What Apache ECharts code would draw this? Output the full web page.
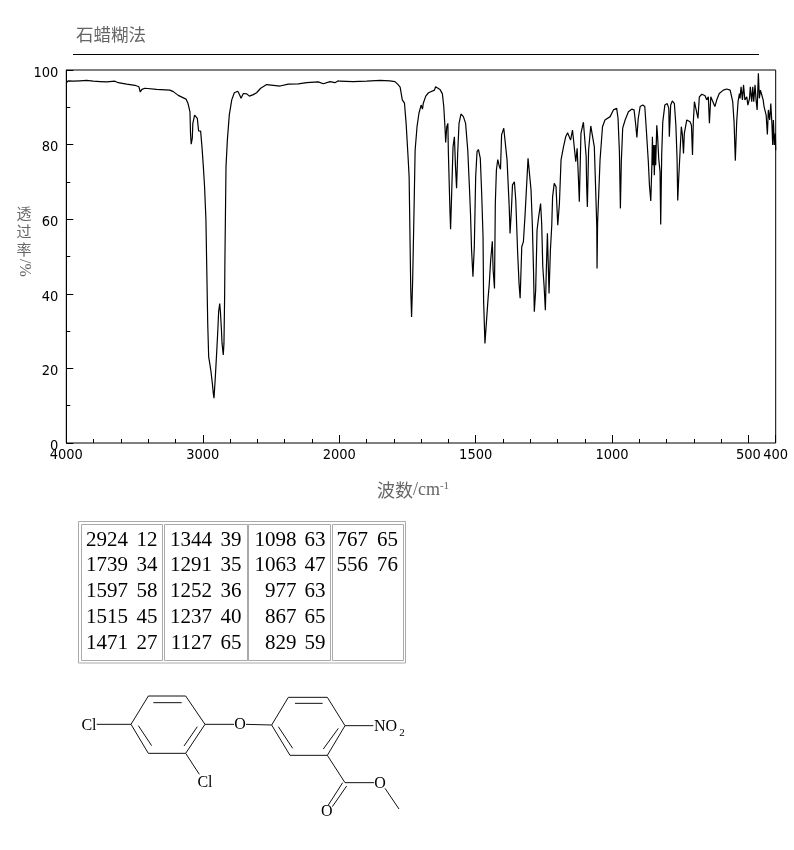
<!DOCTYPE html>
<html>
<head>
<meta charset="utf-8">
<style>html,body{margin:0;padding:0;background:#fff}#chart{width:794px;height:850px}</style>
<script src="https://cdn.jsdelivr.net/npm/echarts@6/dist/echarts.min.js"></script>
</head>
<body>
<div id="chart"></div>
<script>
// ---- spectrum data: wavenumber (cm-1) and transmittance (%) ----
const highWavenumbers = [4000,3985,3949,3900,3851,3839,3802,3753,3741,3705,3644,3619,3558,3497,3468,3458,3446,3424,3339,3241,3216,3180,3123,3109,3094,3090,3085,3077,3073,3060,3050,3040,3031,3016,3006,2996,2987,2977,2972,2964,2957,2947,2940,2930,2923,2918,2908,2898,2891,2884,2876,2871,2864,2859,2850,2845,2840,2838,2830,2820,2806,2788,2769,2744,2732,2720,2703,2678,2659,2630,2606,2576,2532,2483,2434,2374,2300,2239,2154,2117,2068,2032,2007,2000];
const highTransmittance = [96.6,97.1,97.0,97.1,97.2,97.0,97.0,96.9,97.1,96.8,97.0,96.6,96.2,95.9,95.5,94.1,94.8,95.1,94.8,94.6,94.2,93.2,92.2,91.1,88.8,83.0,80.1,81.7,85.7,87.9,88.2,87.0,83.7,83.6,79.4,74.1,68.7,59.8,49.0,32.1,23.1,20.9,19.1,16.0,13.3,12.0,17.8,24.5,29.4,35.2,37.4,35.2,30.7,26.7,23.6,26.7,39.7,49.0,74.1,81.2,87.9,92.0,93.9,94.3,93.5,92.4,93.7,93.6,93.0,93.4,93.9,95.1,96.1,95.9,95.7,96.2,96.3,96.6,96.8,96.3,96.9,96.6,97.1,97.0];
const midWavenumbers = [2000,1950,1900,1850,1815,1796,1786,1777,1769,1761,1755,1748,1744,1741,1738,1735,1731,1726,1722,1715,1708,1700,1695,1692,1683,1673,1651,1647,1631,1622,1617,1612,1610,1606,1602,1600,1594,1592,1588,1583,1578,1574,1570,1566,1561,1554,1545,1537,1529,1523,1519,1515,1510,1505,1500,1495,1490,1483,1478,1473,1471,1466,1461,1455,1450,1445,1439,1436,1431,1428,1424,1419,1413,1409,1405,1397,1391,1385,1377,1374,1369,1365,1358,1353,1346,1341,1337,1331,1325,1319];
const midTransmittance = [97.0,96.9,97.0,97.2,97.1,96.9,96.2,95.4,92.0,91.1,85.7,76.8,71.4,56.2,41.0,33.8,43.7,62.5,78.5,84.8,88.4,90.6,89.5,91.1,93.0,93.9,94.6,95.5,94.8,93.6,90.2,83.9,80.6,84.8,85.7,77.6,61.6,57.3,66.9,79.4,82.1,74.1,68.3,77.6,85.7,88.2,87.5,85.7,78.5,68.7,61.6,51.7,44.6,52.6,71.4,78.1,78.7,76.3,66.9,55.3,38.3,26.7,32.0,38.3,42.8,49.0,54.1,46.4,41.4,64.2,73.2,76.0,74.1,73.4,82.6,84.4,83.9,75.9,63.3,56.2,62.5,69.2,70.0,65.1,50.8,42.8,38.8,52.6,54.0,61.1];
const fingerWavenumbers = [1308,1303,1297,1292,1288,1285,1280,1275,1269,1262,1258,1254,1249,1244.5,1241,1237,1234,1231,1226,1221,1218,1212,1205.4,1199,1193,1187,1178,1170,1163,1158,1152,1145,1139,1133,1128,1123.5,1120,1114,1105,1099,1095,1093,1090.5,1086,1078,1071,1065,1060,1056,1055,1053,1044,1035,1026,1007];
const fingerTransmittance = [76.3,76.3,67.8,58.0,46.4,35.2,41.0,57.1,60.7,64.2,58.9,47.3,41.9,35.6,46.4,56.2,48.1,40.1,51.7,58.4,66.0,69.6,68.7,58.4,64.2,75.9,79.4,82.1,83.2,83.5,81.2,83.9,83.9,75.4,79.0,71.4,64.7,83.0,86.0,85.7,76.8,68.7,63.3,78.5,85.0,84.8,79.4,67.8,58.0,46.8,58.9,75.9,84.8,86.6,87.5];
const lowWavenumbers = [995,983,978,973,969.4,966,961,952,940,928,919.3,913,909,904,897,887.5,880,875,872,867,863,858,854,852,850,847,845,842,840,836,832.6,829,824,821.6,818,814,806.5,797.6,792,790,785,779,771.5,766,761.7,759.2,755.6,751,746,742,738,735,726,714,709,705,702,698,692,685,680,671,659,653,647,643,638,632,623,616,607,592,580,567,561,557.6,552.7,548,543,538,533,530.7,527,522,518,513,506,502,496,493,488,484,480.6,475.7,472,468,463.5,460,456,451,446,442.7,439,435,430.5,427,422,418,414,411,408.5,405,401.2,400];
const lowTransmittance = [89.3,89.7,87.0,78.0,62.9,75.4,84.4,86.6,88.8,89.5,89.3,85.2,81.9,87.0,90.2,90.6,90.2,84.8,85.2,75.4,69.2,64.9,74.5,82.1,74.5,79.9,71.8,79.9,74.5,85.2,81.7,76.3,72.7,58.6,77.2,86.1,90.6,91.0,89.7,82.1,90.6,91.7,91.0,85.2,76.3,65.0,71.0,77.6,84.8,82.6,77.6,83.0,86.6,86.1,85.2,77.2,86.1,91.5,91.5,87.0,92.8,93.5,93.1,92.0,92.8,85.7,92.8,92.4,90.2,92.0,93.7,94.6,94.9,94.6,95.0,91.5,86.1,75.7,86.1,91.5,93.7,92.4,95.5,92.0,96.0,92.0,92.8,90.6,92.4,95.5,91.5,95.5,91.5,96.0,92.0,89.3,99.1,92.4,94.6,93.3,92.0,90.2,90.6,87.9,82.7,89.3,86.6,91.0,85.7,79.9,86.6,79.9,83.0,78.5];

// ---- axis ticks ----
const highMajorTicks = [4000,3000,2000];
const lowMajorTicks = [1500,1000,500,400];
const tickLabelFont = '"DejaVu Sans Condensed","Liberation Sans",sans-serif';

// ---- peak table ----
const peakWavenumbers = [
  ['2924','1739','1597','1515','1471'],
  ['1344','1291','1252','1237','1127'],
  ['1098','1063','977','867','829'],
  ['767','556']
];
const peakValues = [
  ['12','34','58','45','27'],
  ['39','35','36','40','65'],
  ['63','47','63','65','59'],
  ['65','76']
];

// ---- text ----
const titleText = '石蜡糊法';
const yAxisChars = ['透','过','率'];

function pairs(xs, ys){ return xs.map((x,i)=>[x,ys[i]]); }
const rightW = midWavenumbers.concat(fingerWavenumbers, lowWavenumbers);
const rightT = midTransmittance.concat(fingerTransmittance, lowTransmittance);

const G = {l:66.3, mid:339.3, r:775.7, t:70, h:373};
const gray = '#666';
const graphic = [];

function text(x,y,t,o){
  graphic.push({type:'text',x:x,y:y,silent:true,z:20,
    style:Object.assign({text:t,fill:'#000',fontFamily:'Liberation Serif',fontSize:16,align:'center',verticalAlign:'middle'},o||{})});
}
function line(x1,y1,x2,y2,c){
  graphic.push({type:'line',silent:true,z:20,shape:{x1,y1,x2,y2},style:{stroke:c||'#000',lineWidth:1}});
}
function box(x,y,w,h,stroke){
  graphic.push({type:'rect',silent:true,z:19,shape:{x,y,width:w,height:h},style:{fill:'none',stroke:stroke,lineWidth:1}});
}

// rule under the title
line(73,54.5,759,54.5);

// y axis caption, stacked
yAxisChars.forEach((c,i)=>text(24,213+i*18,c,{fontFamily:'Noto Sans CJK SC',fontSize:15,fill:gray}));
graphic.push({type:'text',x:24,y:268,rotation:-Math.PI/2,silent:true,z:20,style:{text:'/%',fill:gray,fontFamily:'Liberation Serif',fontSize:16,align:'center',verticalAlign:'middle'}});

// x axis caption
graphic.push({type:'text',x:413,y:490,silent:true,z:20,style:{
  text:'{a|波数}{b|/cm}{c|-1}',align:'center',verticalAlign:'middle',
  rich:{a:{fontFamily:'Noto Sans CJK SC',fontSize:18,fill:gray},
        b:{fontFamily:'Liberation Serif',fontSize:18,fill:gray},
        c:{fontFamily:'Liberation Serif',fontSize:11,fill:gray,verticalAlign:'top',padding:[0,0,6,0]}}}});

// peak table
box(78.5,521.5,327,141.5,'#aaa');
const colBoxes=[[81,81],[164,83],[248,82],[332,71]];
const colW=[128,212,296.5,368], colV=[157.5,241.5,325.5,398];
colBoxes.forEach((c,i)=>{
  box(c[0]+.5,524.5,c[1],136,'#aaa');
  peakWavenumbers[i].forEach((w,r)=>{
    const y=540+r*25.8;
    text(colW[i],y,w,{fontSize:21,align:'right'});
    text(colV[i],y,peakValues[i][r],{fontSize:21,align:'right'});
  });
});

// structure diagram
const bondSegments=[
 [235,48,347,48],[347,48,405,133],[405,133,347,220],[347,220,235,220],[235,220,183,133],[183,133,235,48],
 [250,68,335,68],[205,137,245,197],[382,140,342,198],
 [80,133,183,133],[347,220,388,283],
 [405,133,492,133],[528,133,605,135],
 [655,52,772,52],[772,52,825,137],[825,137,772,226],[772,226,660,226],[660,226,605,135],[605,135,655,52],
 [675,70,758,70],[625,140,668,205],[805,145,760,207],
 [825,137,910,137],[772,226,825,308],[825,308,912,308],[945,325,987,387],
 [818,308,775,375],[830,318,787,380]
];
const sx=v=>70+v/3, sy=v=>680+v/3;
bondSegments.forEach(b=>line(sx(b[0]),sy(b[1]),sx(b[2]),sy(b[3]),'#111'));
text(sx(57),sy(137),'Cl');
text(sx(405),sy(308),'Cl');
text(sx(510),sy(134),'O');
text(sx(930),sy(310),'O');
text(sx(770),sy(395),'O');
text(sx(912),sy(141),'NO',{align:'left'});
text(sx(988),sy(158),'2',{fontSize:11,align:'left'});

const plainNumber=v=>String(v);
const labelStyle={color:'#000',fontFamily:tickLabelFont,fontSize:14.5,margin:5,formatter:plainNumber};
const hiddenY=i=>({gridIndex:i,type:'value',min:0,max:100,show:false});

const option={
  animation:false,
  backgroundColor:'#fff',
  title:{text:titleText,left:76,top:26,padding:0,textStyle:{color:gray,fontFamily:'Noto Sans CJK SC',fontSize:17.5,fontWeight:'normal'}},
  grid:[
    {left:G.l,width:G.mid-G.l,top:G.t,height:G.h},
    {left:G.mid,width:G.r-G.mid,top:G.t,height:G.h},
    {left:G.l,width:G.r-G.l,top:G.t,height:G.h,show:true,borderColor:'#000',borderWidth:1,backgroundColor:'transparent'}
  ],
  xAxis:[
    {gridIndex:0,type:'value',inverse:true,min:2000,max:4000,interval:200,position:'bottom',
     axisLine:{show:false},splitLine:{show:false},axisLabel:{show:false},
     axisTick:{inside:true,length:4,lineStyle:{color:'#000'}}},
    {gridIndex:0,type:'value',inverse:true,min:2000,max:4000,interval:1000,position:'bottom',
     axisLine:{show:false},splitLine:{show:false},
     axisLabel:Object.assign({customValues:highMajorTicks,hideOverlap:false},labelStyle),
     axisTick:{inside:true,length:8,customValues:highMajorTicks,lineStyle:{color:'#000'}}},
    {gridIndex:1,type:'value',inverse:true,min:400,max:2000,interval:100,position:'bottom',
     axisLine:{show:false},splitLine:{show:false},axisLabel:{show:false},
     axisTick:{inside:true,length:4,lineStyle:{color:'#000'}}},
    {gridIndex:1,type:'value',inverse:true,min:400,max:2000,interval:100,position:'bottom',
     axisLine:{show:false},splitLine:{show:false},
     axisLabel:Object.assign({customValues:lowMajorTicks,hideOverlap:false},labelStyle),
     axisTick:{inside:true,length:8,customValues:lowMajorTicks,lineStyle:{color:'#000'}}},
    {gridIndex:2,type:'value',min:0,max:1,show:false}
  ],
  yAxis:[
    {gridIndex:0,type:'value',min:0,max:100,interval:20,
     axisLine:{show:true,lineStyle:{color:'#000'}},splitLine:{show:false},
     axisTick:{show:true,inside:true,length:7,lineStyle:{color:'#000'}},
     minorTick:{show:true,splitNumber:2,length:4,lineStyle:{color:'#000'}},
     axisLabel:Object.assign({},labelStyle,{margin:8,verticalAlign:'top',lineHeight:6})},
    hiddenY(1),
    hiddenY(2)
  ],
  series:[
    {type:'line',xAxisIndex:0,yAxisIndex:0,data:pairs(highWavenumbers,highTransmittance),showSymbol:false,silent:true,lineStyle:{color:'#000',width:1.2}},
    {type:'line',xAxisIndex:2,yAxisIndex:1,data:pairs(rightW,rightT),showSymbol:false,silent:true,lineStyle:{color:'#000',width:1.2}}
  ],
  graphic:{elements:graphic}
};
echarts.init(document.getElementById('chart'),null,{renderer:'canvas'}).setOption(option);
</script>
</body>
</html>
